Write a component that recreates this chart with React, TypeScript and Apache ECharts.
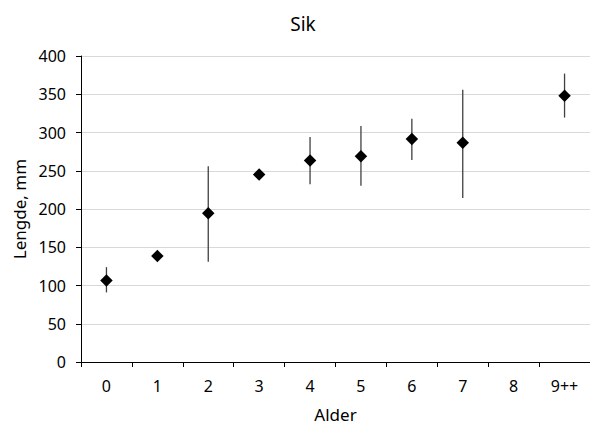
import React, { useEffect, useRef } from "react";
import * as echarts from "echarts";

const categories = ["0", "1", "2", "3", "4", "5", "6", "7", "8", "9++"];
const meanLength: (number | null)[] = [106.5, 138.5, 194.5, 245, 263.5, 269, 291.5, 286.5, null, 348];
const errLow: (number | null)[] = [91, null, 131, null, 232.5, 230.5, 264, 214.5, null, 319.5];
const errHigh: (number | null)[] = [124, null, 256, null, 294, 308.5, 318, 356, null, 377];
const yTicks = { min: 0, max: 400, interval: 50 };

const FONT = "'Noto Sans', 'Open Sans', sans-serif";

export default function App() {
  const ref = useRef<HTMLDivElement>(null);
  useEffect(() => {
    if (!ref.current) return;
    const chart = echarts.init(ref.current, null, { renderer: "svg" });
    const errData = categories
      .map((c, i) => (errLow[i] != null && errHigh[i] != null ? [i, errLow[i], errHigh[i]] : null))
      .filter((d) => d !== null);
    chart.setOption({
      animation: false,
      backgroundColor: "#ffffff",
      textStyle: { fontFamily: FONT },
      title: {
        text: "Sik",
        left: 298,
        top: 9,
        textAlign: "center",
        textStyle: { fontFamily: FONT, fontSize: 19, fontWeight: "normal", color: "#000" },
      },
      grid: { left: 81, right: -3, top: 56, bottom: 59, containLabel: false },
      xAxis: {
        type: "category",
        data: categories,
        boundaryGap: true,
        name: "Alder",
        nameLocation: "middle",
        nameGap: 44,
        nameTextStyle: { fontFamily: FONT, fontSize: 17, color: "#000", verticalAlign: "top" },
        axisLine: { lineStyle: { color: "#000", width: 1 } },
        axisTick: { show: true, length: 5, inside: false, lineStyle: { color: "#000" } },
        axisLabel: { fontFamily: FONT, fontSize: 16, color: "#000", margin: 16 },
        splitLine: { show: false },
      },
      yAxis: {
        type: "value",
        min: yTicks.min,
        max: yTicks.max,
        interval: yTicks.interval,
        name: "Lengde, mm",
        nameLocation: "middle",
        nameGap: 52,
        nameRotate: 90,
        nameTextStyle: { fontFamily: FONT, fontSize: 17, color: "#000" },
        axisLine: { show: true, lineStyle: { color: "#000", width: 1 } },
        axisTick: { show: true, length: 5, inside: false, lineStyle: { color: "#000" } },
        axisLabel: { fontFamily: FONT, fontSize: 16, color: "#000", margin: 15 },
        splitLine: { show: true, lineStyle: { color: "#d9d9d9", width: 1 } },
      },
      series: [
        {
          type: "custom",
          name: "err",
          data: errData,
          z: 1,
          renderItem: (params: any, api: any) => {
            const x = api.value(0);
            const lo = api.coord([x, api.value(1)]);
            const hi = api.coord([x, api.value(2)]);
            return {
              type: "line",
              shape: { x1: lo[0], y1: lo[1], x2: hi[0], y2: hi[1] },
              style: { stroke: "#404040", lineWidth: 1.3 },
            };
          },
        },
        {
          type: "scatter",
          name: "Lengde",
          data: meanLength,
          symbol: "diamond",
          symbolSize: [12.5, 12.5],
          z: 2,
          itemStyle: { color: "#000", opacity: 1 },
        },
      ],
    });
    return () => chart.dispose();
  }, []);
  return <div ref={ref} style={{ width: 590, height: 428, position: "absolute", left: 0, top: 0 }} />;
}
